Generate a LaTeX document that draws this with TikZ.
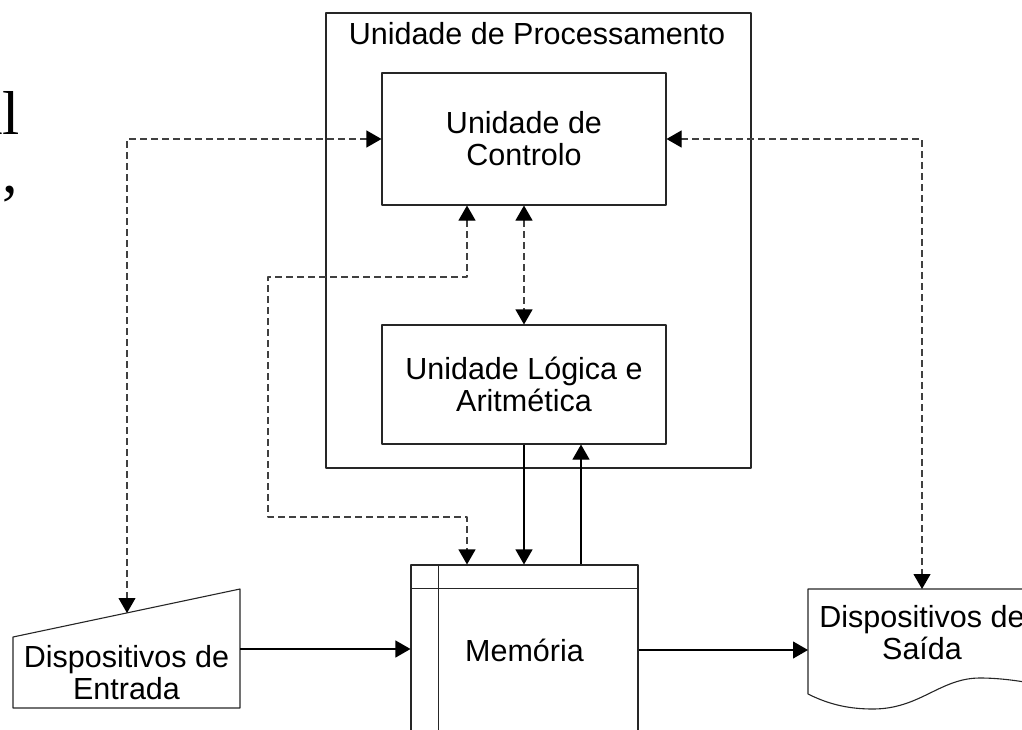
\documentclass[tikz,border=0pt]{standalone}
\usepackage{fontspec}
\setmainfont{Liberation Sans}
\newfontfamily\slidefont{Liberation Serif}
\usetikzlibrary{arrows.meta}

\tikzset{
  bloco/.style={draw=black!85,line width=1.1pt,align=center,inner sep=0pt},
  seta/.style={-{Triangle[length=15pt,width=17pt,color=black]},line width=1.1pt},
  setas/.style={{Triangle[length=15pt,width=17pt,color=black]}-{Triangle[length=15pt,width=17pt,color=black]},line width=1.1pt},
  tracejado/.style={dash pattern=on 7pt off 4pt,draw=black!75},
  diapo/.style={inner sep=0pt,font=\slidefont\fontsize{62}{62}\selectfont},
}

\begin{document}
\begin{tikzpicture}[x=1pt,y=-1pt,font=\fontsize{30.5}{32}\selectfont,line join=round]
\useasboundingbox (0,0) rectangle (1022,730);
% resto do texto do diapositivo
\node[diapo,anchor=base east] (resto) at (20.3,135) {al};
\node[diapo,anchor=base west] (virg) at (2,193) {,};

% unidade de processamento
\node[bloco,minimum width=425pt,minimum height=455pt] (proc) at (538.5,240.5) {};
\node[anchor=base] (titulo) at (537,45) {Unidade de Processamento};
\node[bloco,minimum width=284pt,minimum height=132pt] (ctrl) at (524,139) {Unidade de\\Controlo};
\node[bloco,minimum width=284pt,minimum height=119pt] (ula) at (524,384.5) {Unidade Lógica e\\Aritmética};

% memoria
\node[bloco,minimum width=227pt,minimum height=170pt] (mem) at (524.5,650) {Memória};
\draw[black!85,line width=1.1pt] (mem.north west) ++(0,24) -- ++(227,0)
  (mem.north west) ++(28,0) -- ++(0,170);

% entrada e saida
\path
  (13,637)coordinate(e1)
  (240,589)coordinate(e2)
  (240,708)coordinate(e3)
  (13,708)coordinate(e4)
  (127,613)coordinate(etopo)
  (240,649)coordinate(edir)
  (808,589)coordinate(s1)
  (1036,589)coordinate(s2)
  (922,589)coordinate(stopo)
  (808,649)coordinate(sesq)
  ;
\draw[black!85,line width=1.1pt] (e1)--(e2)--(e3)--(e4)--cycle;
\draw[black!85,line width=1.1pt] (1036,684)--(s2)--(s1)--(808,694)
  .. controls (830,705) and (850,709) .. (873,709)
  .. controls (920,709) and (940,678) .. (980,678)
  .. controls (1000,678) and (1020,681) .. (1036,684);
\node[align=center] (entrada) at (126.5,672.5) {Dispositivos de\\Entrada};
\node[align=center] (saida) at (922,632.5) {Dispositivos de\\Saída};

% ligacoes
\path
  ([xshift=-57pt]ctrl.south)coordinate(c1)
  (268,277)coordinate(c2)
  (268,517)coordinate(c3)
  (c1 |- mem.north)coordinate(c4)
  (581,445)coordinate(u2)
  ;
\draw[setas,tracejado] (ctrl.west) -| (etopo);
\draw[setas,tracejado] (ctrl.east) -| (stopo);
\draw[setas,tracejado] (ctrl) -- (ula);
\draw[setas,tracejado] (c1) |- (c2) -- (c3) -| (c4);
\draw[seta] (ula.south) -- (ula.south |- mem.north);
\draw[seta] (u2 |- mem.north) -- (u2 |- ula.south);
\draw[seta] (edir) -- (edir -| mem.west);
\draw[seta] (mem.east) -- (mem.east -| sesq);
\end{tikzpicture}
\end{document}
